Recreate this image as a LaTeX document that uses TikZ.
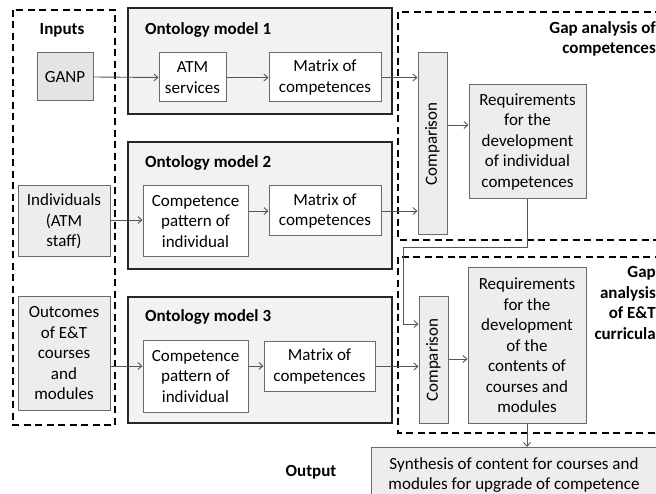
\documentclass[tikz,border=0pt]{standalone}
\usepackage{fontspec}
\setmainfont{Carlito}
\usetikzlibrary{arrows.meta,calc}
\definecolor{bordergray}{HTML}{6A6A6A}
\definecolor{fillgray}{HTML}{EDEDED}
\definecolor{ganpgray}{HTML}{E4E4E4}
\definecolor{modelgray}{HTML}{F2F2F2}
\definecolor{linegray}{HTML}{555555}
\tikzset{
  every node/.style={font=\fontsize{17}{20.5}\selectfont, inner sep=0pt, align=center},
  graybox/.style={draw=bordergray, line width=1pt, fill=fillgray},
  whitebox/.style={draw=bordergray, line width=1pt, fill=white},
  modelbox/.style={draw=black!85, line width=1.8pt, fill=modelgray},
  dashbox/.style={draw=black, line width=1.6pt, dash pattern=on 7pt off 4.5pt},
  lbl/.style={font=\fontsize{17}{20.5}\selectfont\bfseries},
  conn/.style={draw=linegray, line width=0.9pt, -{Straight Barb[length=4pt,width=7pt]}},
  plain/.style={draw=linegray, line width=0.9pt},
}
\begin{document}
\begin{tikzpicture}[x=1pt,y=-1pt]
\useasboundingbox (0,0) rectangle (656,494);
\begin{scope}
\clip (0,0) rectangle (656,494);
% dashed frames
\draw[dashbox] (13,10) rectangle (115,425);
\draw[dashbox] (398,12) rectangle (670,240);
\draw[dashbox] (398,257) rectangle (670,433);

% ontology model boxes
\node[modelbox, minimum width=264, minimum height=106] (om1) at (260,61) {};
\node[modelbox, minimum width=264, minimum height=127] (om2) at (260,205.5) {};
\node[modelbox, minimum width=264, minimum height=126] (om3) at (260,360) {};

% labels
\node[lbl] (inputs) at (62,30) {Inputs};
\node[lbl, anchor=west] (om1l) at (145,30) {Ontology model 1};
\node[lbl, anchor=west] (om2l) at (145,163) {Ontology model 2};
\node[lbl, anchor=west] (om3l) at (145,317) {Ontology model 3};
\node[lbl, anchor=east, align=right] (gap1l) at (656,39) {Gap analysis of\\competences};
\node[lbl, anchor=east, align=right] (gap2l) at (656,303) {Gap\\analysis\\of E\&T\\curricula};
\node[lbl] (outl) at (311,472) {Output};

% inputs
\node[draw=bordergray, line width=1pt, fill=ganpgray, minimum width=56, minimum height=48] (ganp) at (65,77) {GANP};
\node[graybox, minimum width=92, minimum height=71] (indiv) at (64,221.5) {Individuals\\(ATM\\staff)};
\node[graybox, minimum width=92, minimum height=113] (outc) at (64,353.5) {Outcomes\\of E\&T\\courses\\and\\modules};

% model 1
\node[whitebox, minimum width=67, minimum height=49] (atm) at (192.5,77.5) {ATM\\services};
\node[whitebox, minimum width=112, minimum height=49] (m1) at (325,77.5) {Matrix of\\competences};
% model 2
\node[whitebox, minimum width=105, minimum height=71] (cp2) at (195.5,221.5) {Competence\\pattern of\\individual};
\node[whitebox, minimum width=112, minimum height=50] (m2) at (325,211) {Matrix of\\competences};
% model 3
\node[whitebox, minimum width=105, minimum height=71] (cp3) at (195.5,376.5) {Competence\\pattern of\\individual};
\node[whitebox, minimum width=111, minimum height=49] (m3) at (319.5,366.5) {Matrix of\\competences};

% gap analysis 1
\node[graybox, minimum width=29, minimum height=182] (cmp1) at (432.5,144) {};
\node[rotate=90] (cmp1t) at (cmp1.center) {Comparison};
\node[graybox, minimum width=117, minimum height=114] (req1) at (527.5,142) {Requirements\\for the\\development\\of individual\\competences};
% gap analysis 2
\node[graybox, minimum width=29, minimum height=126] (cmp2) at (433.5,360) {};
\node[rotate=90] (cmp2t) at (cmp2.center) {Comparison};
\node[graybox, minimum width=118, minimum height=155] (req2) at (527,345.5) {Requirements\\for the\\development\\of the\\contents of\\courses and\\modules};

% output
\node[graybox, minimum width=290, minimum height=60, anchor=north west] (syn) at (371,447) {};
\node (synt) at (514,475) {Synthesis of content for courses and\\modules for upgrade of competence};

% connectors
\draw[conn] (ganp.east) -- (atm.west);
\draw[conn] (atm.east) -- (m1.west);
\draw[conn] (m1.east) -- (m1.east -| cmp1.west);
\draw[conn] (indiv.east |- 0,220) -- (cp2.west |- 0,220);
\draw[conn] (cp2.east |- m2.west) -- (m2.west);
\draw[conn] (m2.east) -- (m2.east -| cmp1.west);
\draw[conn] (cmp1.east |- 0,125) -- (req1.west |- 0,125);
\draw[conn] (req1.south) -- ++(0,48) -| (403,324) -- (403,324 -| cmp2.west);
\draw[conn] (cmp2.east |- 0,359) -- (req2.west |- 0,359);
\draw[conn] (outc.east |- 0,366) -- (cp3.west |- 0,366);
\draw[conn] (cp3.east |- 0,366) -- (m3.west |- 0,366);
\draw[conn] (m3.east) -- (m3.east -| cmp2.west);
\draw[conn] (req2.south) -- (req2.south |- syn.north);
\end{scope}
\end{tikzpicture}
\end{document}
